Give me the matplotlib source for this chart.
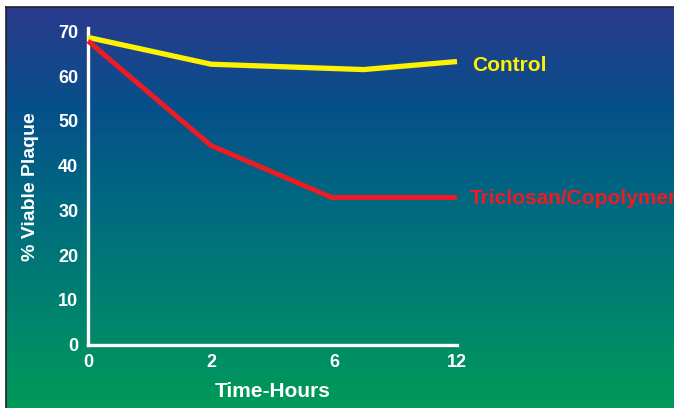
import numpy as np
import matplotlib
matplotlib.use("Agg")
import matplotlib.pyplot as plt
from matplotlib.colors import LinearSegmentedColormap

# ---- data ----
tick_labels = ["0", "2", "6", "12"]
tick_pos = [0, 1, 2, 3]
control_x = [0, 1, 2.24, 3]
control_y = [68.7, 62.7, 61.5, 63.3]
triclosan_x = [0, 1, 1.98, 3]
triclosan_y = [67.9, 44.5, 32.9, 32.9]
y_ticks = [0, 10, 20, 30, 40, 50, 60, 70]

W, H, DPI = 674, 408, 100
fig = plt.figure(figsize=(W / DPI, H / DPI), dpi=DPI)
fig.patch.set_facecolor("white")

# gradient background panel
bg = fig.add_axes([6 / W, 0, 1 - 6 / W, 1 - 7 / H], zorder=0)
cmap = LinearSegmentedColormap.from_list(
    "bg",
    [(0.0, "#2b3a8d"), (0.25, "#06508a"), (0.5, "#006a80"),
     (0.75, "#008270"), (1.0, "#009a58")])
grad = np.linspace(0, 1, 256).reshape(-1, 1)
bg.imshow(grad, aspect="auto", cmap=cmap, extent=[0, 1, 0, 1], origin="upper")
bg.set_xlim(0, 1)
bg.set_ylim(0, 1)
bg.axis("off")
# thin dark frame lines at top and left
fig.add_artist(plt.Line2D([6 / W, 1], [1 - 7 / H, 1 - 7 / H], color="#222222", lw=1.2, transform=fig.transFigure))
fig.add_artist(plt.Line2D([6 / W, 6 / W], [0, 1 - 7 / H], color="#222222", lw=1.2, transform=fig.transFigure))

# main axes
x0, x1 = 88, 457
ytop, ybot = 28, 344.5
ax = fig.add_axes([x0 / W, (H - ybot) / H, (x1 - x0) / W, (ybot - ytop) / H], zorder=2)
ax.patch.set_alpha(0)
ax.set_xlim(0, 3)
ax.set_ylim(0, 70.8)

for s in ["top", "right"]:
    ax.spines[s].set_visible(False)
for s in ["left", "bottom"]:
    ax.spines[s].set_color("white")
    ax.spines[s].set_linewidth(2.4)

font = "Liberation Sans"
ax.set_xticks(tick_pos)
ax.set_xticklabels(tick_labels)
ax.set_yticks(y_ticks)
ax.tick_params(length=0, colors="white", labelsize=13, pad=7)
for lab in ax.get_xticklabels() + ax.get_yticklabels():
    lab.set_fontfamily(font)
    lab.set_fontweight("bold")
    lab.set_color("white")

ax.plot(control_x, control_y, color="#fff200", lw=3.8, clip_on=False,
        solid_joinstyle="miter", solid_capstyle="butt", zorder=3)
ax.plot(triclosan_x, triclosan_y, color="#ed1c24", lw=3.6, clip_on=False,
        solid_joinstyle="miter", solid_capstyle="butt", zorder=4)

ax.annotate("Control", xy=(control_x[-1], control_y[-1]), xytext=(15, -4),
            textcoords="offset pixels", color="#fff200", fontsize=15,
            fontweight="bold", family=font, va="center", ha="left",
            annotation_clip=False)
ax.annotate("Triclosan/Copolymer", xy=(triclosan_x[-1], triclosan_y[-1]),
            xytext=(13, -1), textcoords="offset pixels", color="#ed1c24",
            fontsize=15, fontweight="bold", family=font, va="center",
            ha="left", annotation_clip=False)

ax.set_xlabel("Time-Hours", color="white", fontsize=15, fontweight="bold",
              family=font, labelpad=8)
ax.set_ylabel("% Viable Plaque", color="white", fontsize=14, fontweight="bold",
              family=font, labelpad=14)

fig.savefig("out.png", dpi=DPI)
